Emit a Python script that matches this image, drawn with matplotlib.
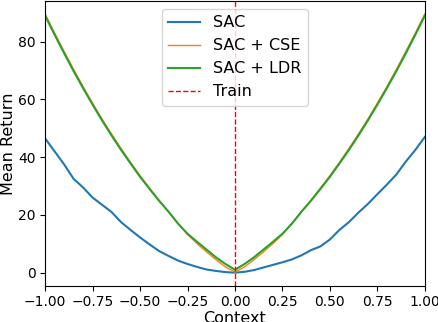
import numpy as np
import matplotlib
matplotlib.use("Agg")
import matplotlib.pyplot as plt

# context values (x axis)
context = np.round(np.arange(-1.0, 1.0001, 0.05), 2)

# mean return
sac = [46.5, 42.0, 37.5, 32.5, 29.5, 26.0, 23.5, 21.0, 17.5, 14.8,
       12.2, 9.8, 7.5, 5.8, 4.2, 3.0, 2.0, 1.1, 0.6, 0.2,
       0.0,
       0.3, 0.9, 1.8, 2.7, 3.6, 4.6, 6.0, 7.8, 9.1, 11.5,
       14.8, 17.5, 20.8, 23.8, 27.2, 30.5, 34.0, 38.5, 42.5, 47.0]

sac_cse = [89.6, 83.0, 76.6, 70.4, 64.4, 58.7, 53.2, 48.0, 43.0, 38.2,
           33.6, 29.3, 25.1, 21.2, 17.0, 13.2, 10.1, 7.2, 4.5, 2.0,
           0.2,
           2.0, 4.5, 7.2, 10.1, 13.2, 17.0, 21.2, 25.1, 29.3, 33.6,
           38.2, 43.0, 48.0, 53.2, 58.7, 64.4, 70.4, 76.6, 83.0, 89.6]

sac_ldr = [89.0, 82.4, 76.0, 69.8, 63.9, 58.2, 52.7, 47.5, 42.5, 37.8,
           33.2, 29.0, 24.9, 21.1, 17.0, 13.5, 10.7, 8.0, 5.3, 3.0,
           1.0,
           3.0, 5.3, 8.0, 10.7, 13.5, 17.0, 21.1, 24.9, 29.0, 33.2,
           37.8, 42.5, 47.5, 52.7, 58.2, 63.9, 69.8, 76.0, 82.4, 89.0]

train_context = 0.0

plt.rcParams['font.size'] = 10

fig, ax = plt.subplots(figsize=(4.38, 3.22), dpi=100)
fig.subplots_adjust(left=0.103, right=0.970, bottom=0.113, top=0.997)

ax.plot(context, sac, color='tab:blue', lw=1.5, label='SAC')
ax.plot(context, sac_cse, color='tab:orange', lw=1.0, label='SAC + CSE')
ax.plot(context, sac_ldr, color='tab:green', lw=1.5, label='SAC + LDR')
ax.axvline(train_context, color='red', ls='--', lw=1.0, label='Train')

ax.set_xlim(-1, 1)
ax.set_xticks([-1.0, -0.75, -0.5, -0.25, 0.0, 0.25, 0.5, 0.75, 1.0])
ax.tick_params(labelsize=10)
ax.set_xlabel('Context', fontsize=11.5, labelpad=1)
ax.set_ylabel('Mean Return', fontsize=11.5, labelpad=1.5)
ax.legend(loc='upper center', fontsize=11.5)

fig.savefig('out.png', dpi=100)
